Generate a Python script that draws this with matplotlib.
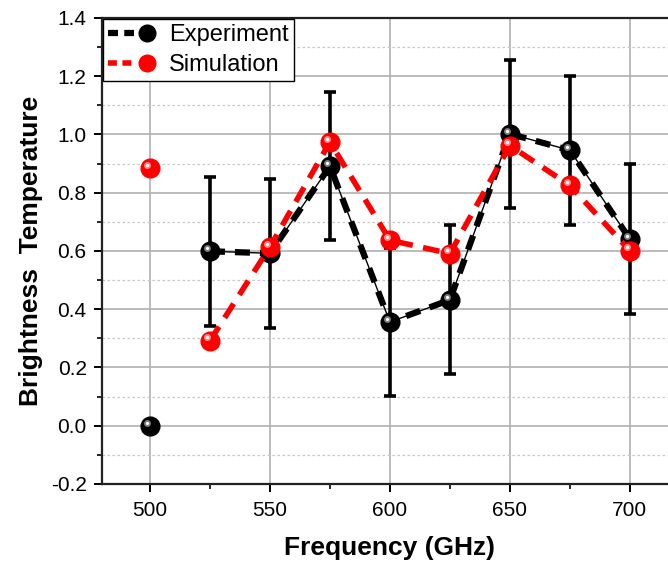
import matplotlib
matplotlib.use('Agg')
import matplotlib.pyplot as plt
from matplotlib.ticker import MultipleLocator
from matplotlib.lines import Line2D
from matplotlib.legend_handler import HandlerTuple
import matplotlib.transforms as mtransforms

plt.rcParams['font.family'] = ['Liberation Sans', 'DejaVu Sans']

# data
freq = [525, 550, 575, 600, 625, 650, 675, 700]
experiment = [0.599, 0.592, 0.891, 0.356, 0.432, 1.002, 0.946, 0.641]
exp_err = [0.255, 0.256, 0.255, 0.254, 0.256, 0.255, 0.256, 0.256]
simulation = [0.292, 0.614, 0.974, 0.637, 0.591, 0.962, 0.825, 0.601]

# lone points at 500 GHz (not joined to the curves)
lone_freq = [500]
lone_experiment = [0.0]
lone_simulation = [0.885]

fig = plt.figure(figsize=(6.68, 5.65), dpi=100)
ax = fig.add_axes([0.1527, 0.1434, 0.862, 0.8248])

ax.set_xlim(480, 720)
ax.set_ylim(-0.2, 1.4)

# grid
ax.xaxis.set_major_locator(MultipleLocator(50))
ax.xaxis.set_minor_locator(MultipleLocator(25))
ax.yaxis.set_major_locator(MultipleLocator(0.2))
ax.yaxis.set_minor_locator(MultipleLocator(0.1))
ax.grid(True, which='major', color='#b0b0b0', lw=1.2, zorder=0)
ax.grid(True, which='minor', axis='y', color='#c8c8c8', lw=0.9, ls=(0, (2, 2)), zorder=0)
ax.set_axisbelow(True)

MS = 13.5


def sphere(x, y, color, hl, z):
    ax.plot(x, y, 'o', ms=MS, mfc=color, mec=color, zorder=z)
    off = mtransforms.offset_copy(ax.transData, fig=fig, x=-2.3, y=2.3, units='points')
    ax.plot(x, y, 'o', ms=5, mfc=hl, mec='none', alpha=0.9, transform=off, zorder=z + 0.1)
    ax.plot(x, y, 'o', ms=2.3, mfc='white', mec='none', transform=off, zorder=z + 0.2)


# experiment
ax.errorbar(freq, experiment, yerr=exp_err, fmt='none', ecolor='black',
            elinewidth=2.6, capsize=4, capthick=2.6, zorder=3)
ax.plot(freq, experiment, color='black', lw=1, zorder=4)
ax.plot(freq, experiment, color='black', lw=4.5, ls=(0, (2.4, 1.6)), zorder=4)
sphere(freq, experiment, 'black', '#8a8a8a', 5)
sphere(lone_freq, lone_experiment, 'black', '#8a8a8a', 5)

# simulation
ax.plot(freq, simulation, color='#ff0000', lw=4, ls=(0, (3, 1.9)), zorder=6)
sphere(freq, simulation, '#ff0000', '#ff9a9a', 7)
sphere(lone_freq, lone_simulation, '#ff0000', '#ff9a9a', 7)

for s in ['top', 'left', 'bottom']:
    ax.spines[s].set_linewidth(1.6)
    ax.spines[s].set_color('#222222')
ax.spines['right'].set_visible(False)

ax.tick_params(which='major', direction='out', length=6, width=1.4, labelsize=15)
ax.tick_params(which='minor', direction='out', length=3.5, width=1.2)
ax.tick_params(axis='x', pad=6)
ax.tick_params(axis='y', pad=5)
ax.set_yticks([-0.2, 0.0, 0.2, 0.4, 0.6, 0.8, 1.0, 1.2, 1.4])
ax.set_yticklabels(['-0.2', '0.0', '0.2', '0.4', '0.6', '0.8', '1.0', '1.2', '1.4'])

ax.set_xlabel('Frequency (GHz)', fontsize=19, fontweight='bold', labelpad=12)
ax.set_ylabel('Brightness  Temperature', fontsize=19, fontweight='bold', labelpad=6)

# legend
exp_h = (Line2D([], [], color='black', lw=4.5, ls=(0, (1.6, 1.0))),
         Line2D([], [], ls='none', marker='o', ms=12, mfc='black', mec='black'))
sim_h = (Line2D([], [], color='#ff0000', lw=4, ls=(0, (1.6, 1.0))),
         Line2D([], [], ls='none', marker='o', ms=12, mfc='#ff0000', mec='#ff0000'))
leg = ax.legend([exp_h, sim_h], ['Experiment', 'Simulation'],
                handler_map={tuple: HandlerTuple(ndivide=None, pad=0)},
                loc='upper left', bbox_to_anchor=(0.0, 1.0), fontsize=17,
                frameon=True, fancybox=False, framealpha=1, edgecolor='black',
                borderpad=0.2, handlelength=2.2, handletextpad=0.4,
                labelspacing=0.35, borderaxespad=0.05)
leg.get_frame().set_linewidth(1.0)
leg.set_zorder(10)

fig.savefig('out.png', dpi=100)
